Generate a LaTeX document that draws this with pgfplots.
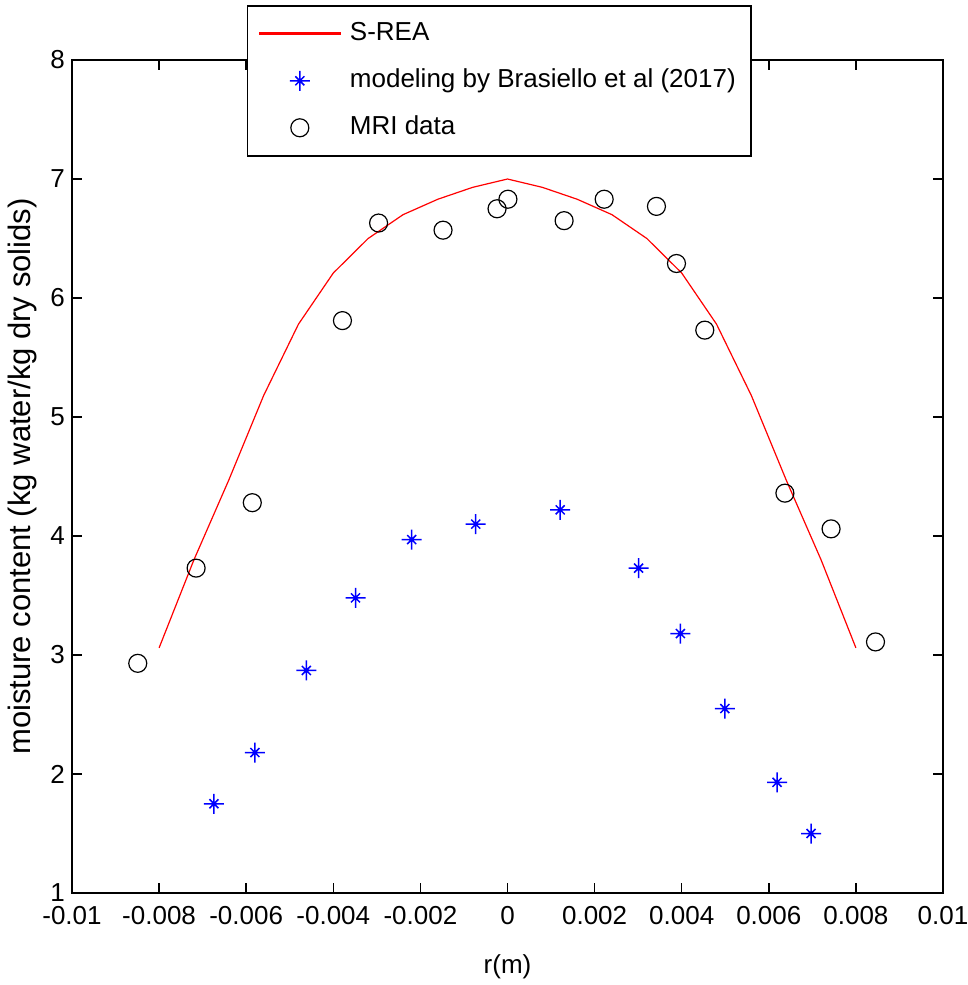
\documentclass[border=0pt]{standalone}
\usepackage{pgfplots}
\pgfplotsset{compat=1.18}
\usepackage{fontspec}
\setmainfont{Liberation Sans}

% MATLAB-style '*' marker: long + arms, short x arms
\pgfdeclareplotmark{mstar}{%
  \pgfpathmoveto{\pgfqpoint{-\pgfplotmarksize}{0pt}}%
  \pgfpathlineto{\pgfqpoint{\pgfplotmarksize}{0pt}}%
  \pgfpathmoveto{\pgfqpoint{0pt}{-\pgfplotmarksize}}%
  \pgfpathlineto{\pgfqpoint{0pt}{\pgfplotmarksize}}%
  \pgfpathmoveto{\pgfqpoint{-.45\pgfplotmarksize}{-.45\pgfplotmarksize}}%
  \pgfpathlineto{\pgfqpoint{.45\pgfplotmarksize}{.45\pgfplotmarksize}}%
  \pgfpathmoveto{\pgfqpoint{-.45\pgfplotmarksize}{.45\pgfplotmarksize}}%
  \pgfpathlineto{\pgfqpoint{.45\pgfplotmarksize}{-.45\pgfplotmarksize}}%
  \pgfusepathqstroke}

\newcommand\fs{\fontsize{13}{15}\selectfont}

\begin{document}
\begin{tikzpicture}
\begin{axis}[
  at={(0,0)}, anchor=south west,
  width=435.5pt, height=416.5pt, scale only axis,
  xmin=-0.01, xmax=0.01, ymin=1, ymax=8,
  scaled x ticks=false, scaled y ticks=false,
  xtick={-0.01,-0.008,-0.006,-0.004,-0.002,0,0.002,0.004,0.006,0.008,0.01},
  xticklabels={-0.01,-0.008,-0.006,-0.004,-0.002,0,0.002,0.004,0.006,0.008,0.01},
  ytick={1,2,3,4,5,6,7,8},
  yticklabels={1,2,3,4,5,6,7,8},
  tick align=inside, major tick length=5pt,
  axis line style={line width=0.75pt}, every tick/.append style={black,line width=0.75pt},
  tick label style={font=\fs},
  xticklabel style={yshift=-3pt},
  xlabel={r(m)}, ylabel={moisture content (kg water/kg dry solids)},
  xlabel style={font=\fs, at={(axis description cs:0.5,-0.0888)}, anchor=center},
  ylabel style={font=\fontsize{15.5}{18}\selectfont, at={(axis description cs:-0.0574,0.5)}, anchor=center},
  legend cell align=left,
  legend image code/.code={\draw[mark repeat=2,mark phase=2,#1] plot coordinates {(2pt,0pt) (22.25pt,0pt) (42.5pt,0pt)};},
  legend style={at={(rel axis cs:0.2009,1.066)}, anchor=north west,
    font=\fs, fill=white,
    inner xsep=5.5pt, inner ysep=5.5pt, row sep=6.5pt, column sep=2.5pt,
    nodes={inner sep=2pt, text height=10pt, text depth=3pt}},
  every axis legend/.append style={line width=0.75pt},
]
\addplot[red, line width=0.6pt, no marks,
  legend image code/.code={\fill[red] (2pt,-0.35pt) rectangle (42.5pt,0.35pt);}] coordinates {
(-0.008,3.06) (-0.0072,3.80) (-0.0064,4.47) (-0.0056,5.18) (-0.0048,5.78)
(-0.004,6.21) (-0.0032,6.50) (-0.0024,6.70) (-0.0016,6.83) (-0.0008,6.93)
(0,7.00)
(0.0008,6.93) (0.0016,6.83) (0.0024,6.70) (0.0032,6.50) (0.004,6.21)
(0.0048,5.78) (0.0056,5.18) (0.0064,4.47) (0.0072,3.80) (0.008,3.06)};
\addlegendentry{S-REA}
\addplot[blue, only marks, mark=mstar, mark size=5pt, line width=0.75pt] coordinates {
(-0.00674,1.75) (-0.00580,2.18) (-0.00462,2.87) (-0.00349,3.48)
(-0.00220,3.97) (-0.00073,4.10) (0.00121,4.22) (0.00301,3.73)
(0.00397,3.18) (0.00499,2.55) (0.00619,1.93) (0.00697,1.50)};
\addlegendentry{modeling by Brasiello et al (2017)}
\addplot[black, only marks, mark=o, mark size=4.5pt, line width=0.6pt] coordinates {
(-0.00849,2.93) (-0.00715,3.73) (-0.00586,4.28) (-0.00379,5.81)
(-0.00296,6.63) (-0.00148,6.57) (-0.00024,6.75) (0.00001,6.83)
(0.00130,6.65) (0.00222,6.83) (0.00342,6.77) (0.00388,6.29)
(0.00453,5.73) (0.00637,4.36) (0.00743,4.06) (0.00845,3.11)};
\addlegendentry{MRI data}
\end{axis}
\pgfresetboundingbox
\path (-36pt,-46pt) rectangle (448pt,446.5pt);
\end{tikzpicture}
\end{document}
